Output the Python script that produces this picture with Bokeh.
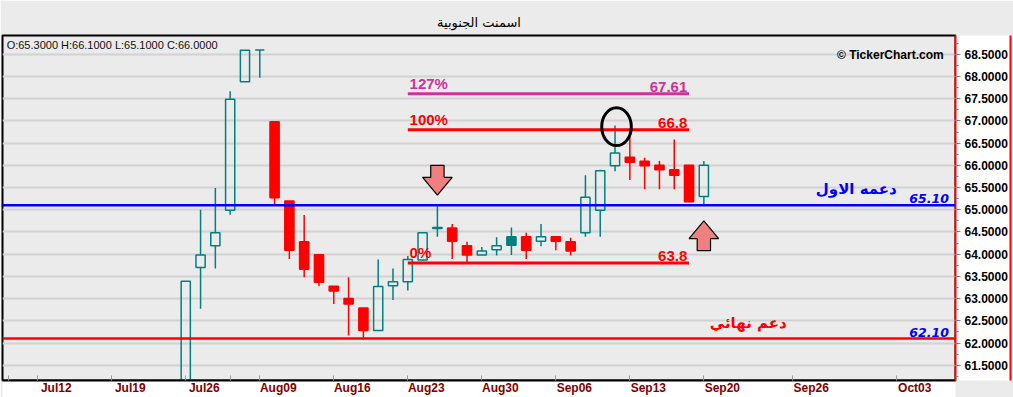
from bokeh.plotting import figure
from bokeh.models import (Range1d, FixedTicker, SingleIntervalTicker, PrintfTickFormatter,
                          Span, ColumnDataSource, LinearAxis)
from bokeh.core.properties import value
from bokeh.embed import file_html
from bokeh.resources import INLINE

# ---------------- data ----------------
title_text = "اسمنت الجنوبية"
idx = list(range(36))
opens = [61.00, 63.70, 64.19, 64.99, 67.88, 68.60, 66.98, 65.20, 64.28, 63.99,
         63.28, 63.00, 62.79, 62.28, 63.29, 63.38, 63.87, 64.58, 64.59, 64.19,
         63.98, 64.10, 64.39, 64.39, 64.29, 64.39, 64.28, 64.48, 64.99, 65.99,
         66.18, 66.09, 66.00, 65.90, 66.00, 65.30]
highs = [63.39, 65.00, 65.49, 67.67, 68.59, 68.60, 66.98, 65.20, 64.88, 63.99,
         63.28, 63.48, 62.79, 63.88, 63.68, 63.96, 64.50, 65.08, 64.68, 64.28,
         64.16, 64.38, 64.60, 64.48, 64.68, 64.39, 64.37, 65.78, 65.90, 66.90,
         66.75, 66.17, 66.10, 66.58, 66.00, 66.10]
lows = [60.90, 62.77, 63.68, 64.89, 67.88, 67.97, 65.09, 63.89, 63.48, 63.28,
        62.88, 62.17, 62.08, 62.27, 62.97, 63.18, 63.85, 64.39, 63.89, 63.79,
        63.98, 63.97, 63.98, 63.89, 64.18, 64.09, 63.97, 64.39, 64.39, 65.87,
        65.67, 65.46, 65.46, 65.46, 65.18, 65.10]
closes = [63.39, 63.98, 64.48, 67.49, 68.59, 68.60, 65.27, 64.09, 63.66, 63.37,
          63.17, 62.88, 62.28, 63.27, 63.38, 63.88, 64.48, 64.60, 64.29, 63.98,
          64.07, 64.19, 64.20, 64.09, 64.39, 64.29, 64.07, 65.28, 65.88, 66.28,
          66.07, 65.99, 65.90, 65.78, 65.18, 66.00]

tick_idx = [-10, -5, 0, 5, 10, 15, 20, 25, 30, 35, 41, 48]
tick_labels = ["Jul12", "Jul19", "Jul26", "Aug09", "Aug16", "Aug23", "Aug30",
               "Sep06", "Sep13", "Sep20", "Sep26", "Oct03"]
extra_ticks = [-12, 3]

fib_levels = [63.8, 66.8, 67.61]
fib_names = ["0%", "100%", "127%"]
fib_start = 15
fib_end = 34

support_levels = [65.10, 62.10]
support_names = ["دعمه الاول", "دعم نهائي"]

arrow_x = [17, 35]
arrow_tip = [65.33, 64.75]
arrow_dir = [-1, 1]

# ---------------- styles ----------------
TEAL = "#008080"
RED = "#ff0000"
BLUE = "#0000ff"
MAGENTA = "#cc3399"
BG = "#ebebeb"
W, H = 1013, 397
MB_L, MB_R, MB_T, MB_B = 2, 58, 35, 14
X0, X1 = -12.38, 52.0
Y0, Y1 = 61.156, 68.924

p = figure(width=W, height=H, x_range=Range1d(X0, X1), y_range=Range1d(Y0, Y1),
           y_axis_location="right", output_backend="svg", toolbar_location=None,
           min_border_left=MB_L, min_border_right=MB_R, min_border_top=MB_T,
           min_border_bottom=MB_B, background_fill_color=BG, border_fill_color=BG,
           outline_line_color="black", outline_line_width=2, title=title_text)
p.title.align = "center"
p.title.vertical_align = "middle"
p.title.text_font = "DejaVu Sans"
p.title.text_font_size = "13px"
p.title.text_font_style = "normal"
p.title.text_color = "black"

# y axis (right)
yt = SingleIntervalTicker(interval=0.5, num_minor_ticks=2)
ya = p.yaxis[0]
ya.ticker = yt
ya.formatter = PrintfTickFormatter(format="%.4f")
ya.major_label_text_font = "Liberation Sans"
ya.major_label_text_font_style = "bold"
ya.major_label_text_font_size = "12px"
ya.major_label_text_color = "black"
ya.major_label_standoff = 4
ya.axis_line_color = RED
ya.axis_line_width = 2
ya.major_tick_out = 5
ya.major_tick_in = 0
ya.minor_tick_out = 3
ya.minor_tick_in = 0
ya.major_tick_line_color = "#808080"
ya.minor_tick_line_color = "#808080"
p.ygrid.ticker = yt
p.ygrid.grid_line_color = "#d2d2d2"
p.ygrid.grid_line_width = 2
p.xgrid.visible = False

# outer edge of the price panel: an empty axis whose line closes the red box
edge = LinearAxis(ticker=FixedTicker(ticks=[]), axis_line_color=RED, axis_line_width=2,
                  major_tick_out=0, major_tick_in=0, minor_tick_out=0, minor_tick_in=0)
p.add_layout(edge, "right")

# x axis
LABEL_SHIFT = 1.25
label_pos = [t + LABEL_SHIFT for t in tick_idx]
xa = p.xaxis[0]
xa.ticker = FixedTicker(ticks=label_pos, minor_ticks=sorted(tick_idx + extra_ticks))
xa.major_label_overrides = {lp: lab for lp, lab in zip(label_pos, tick_labels)}
xa.major_tick_in = 0
xa.major_tick_out = 0
xa.minor_tick_in = 5
xa.minor_tick_out = 0
xa.minor_tick_line_color = "#9a9a9a"
xa.axis_line_color = "black"
xa.axis_line_width = 2
xa.major_label_text_font = "Liberation Sans"
xa.major_label_text_font_style = "bold"
xa.major_label_text_font_size = "12px"
xa.major_label_text_color = "#800000"
xa.major_label_standoff = 0

# white axis panels (grey title band comes from border fill)
try:
    ya.background_fill_color = "white"
    xa.background_fill_color = "white"
    edge.background_fill_color = "white"
except Exception:
    p.border_fill_color = "white"

# candles
colors, fills, btop, bbot = [], [], [], []
for k in range(len(idx)):
    prev = closes[k - 1] if k > 0 else opens[k]
    colors.append(TEAL if closes[k] >= prev else RED)
    fills.append(1.0 if closes[k] < opens[k] else 0.0)
    btop.append(max(opens[k], closes[k]))
    bbot.append(min(opens[k], closes[k]))
src = ColumnDataSource(dict(x=idx, h=highs, l=lows, top=btop, bot=bbot, c=colors, fa=fills))
p.segment(x0="x", y0="top", x1="x", y1="h", source=src, line_color="c", line_width=1.5)
p.segment(x0="x", y0="l", x1="x", y1="bot", source=src, line_color="c", line_width=1.5)
p.vbar(x="x", width=0.62, top="top", bottom="bot", source=src, fill_color="c",
       fill_alpha="fa", line_color="c", line_width=1.5)

# fib lines
fib_colors = [RED, RED, MAGENTA]
fsrc = ColumnDataSource(dict(y=fib_levels, x0=[fib_start] * 3, x1=[fib_end] * 3,
                             c=fib_colors, name=fib_names,
                             val=[f"{v:g}" for v in fib_levels],
                             xl=[fib_start + 0.12] * 3, xr=[fib_end - 0.12] * 3))
p.segment(x0="x0", y0="y", x1="x1", y1="y", source=fsrc, line_color="c", line_width=3)
p.text(x="xl", y="y", text="name", source=fsrc, text_color="c", text_align="left",
       text_baseline="bottom", y_offset=-2, text_font=value("Liberation Sans"),
       text_font_style="bold", text_font_size="15px")
p.text(x="xr", y="y", text="val", source=fsrc, text_color="c", text_align="right",
       text_baseline="bottom", y_offset=-2, text_font=value("Liberation Sans"),
       text_font_style="bold", text_font_size="15px")

# support lines
sup_colors = [BLUE, RED]
for lvl, col in zip(support_levels, sup_colors):
    p.add_layout(Span(location=lvl, dimension="width", line_color=col, line_width=2.5))
ssrc = ColumnDataSource(dict(y=support_levels, x=[X1 - 0.45] * 2,
                             t=[f"{v:.2f}" for v in support_levels]))
p.text(x="x", y="y", text="t", source=ssrc, text_color=BLUE, text_align="right",
       text_baseline="bottom", y_offset=-2, text_font=value("DejaVu Sans"),
       text_font_style="bold italic", text_font_size="12.5px")
asrc = ColumnDataSource(dict(x=[45.3, 38.0], y=[s + 0.36 for s in support_levels],
                             t=support_names, c=sup_colors))
p.text(x="x", y="y", text="t", source=asrc, text_color="c", text_align="center",
       text_baseline="middle", text_font=value("DejaVu Sans"), text_font_style="bold",
       text_font_size="15px")

# arrows
HW, SW, HL, TL = 1.0, 0.45, 0.40, 0.67
xs, ys = [], []
for ax, tip, d in zip(arrow_x, arrow_tip, arrow_dir):
    base = tip - d * HL
    end = tip - d * TL
    xs.append([ax, ax - HW, ax - SW, ax - SW, ax + SW, ax + SW, ax + HW])
    ys.append([tip, base, base, end, end, base, base])
p.patches(xs, ys, fill_color="#f08080", line_color="black", line_width=1.2)

# ellipse highlight
p.ellipse(x=[29.1], y=[66.87], width=2.0, height=0.85, fill_alpha=0,
          line_color="black", line_width=3)

# copyright and OHLC header
p.text(x=[51.2], y=[68.48], text=["© TickerChart.com"], text_align="right",
       text_baseline="middle", text_color="black", text_font=value("Liberation Sans"),
       text_font_style="bold", text_font_size="12px")
ohlc = f"O:{opens[-1]:.4f}   H:{highs[-1]:.4f}   L:{lows[-1]:.4f}   C:{closes[-1]:.4f}"
p.text(x=[X0 + 0.28], y=[Y1], text=[ohlc], text_align="left", text_baseline="top",
       y_offset=3, text_color="#101010", text_font=value("Liberation Sans"),
       text_font_size="11px")

open("out.html", "w").write(file_html(p, INLINE))
